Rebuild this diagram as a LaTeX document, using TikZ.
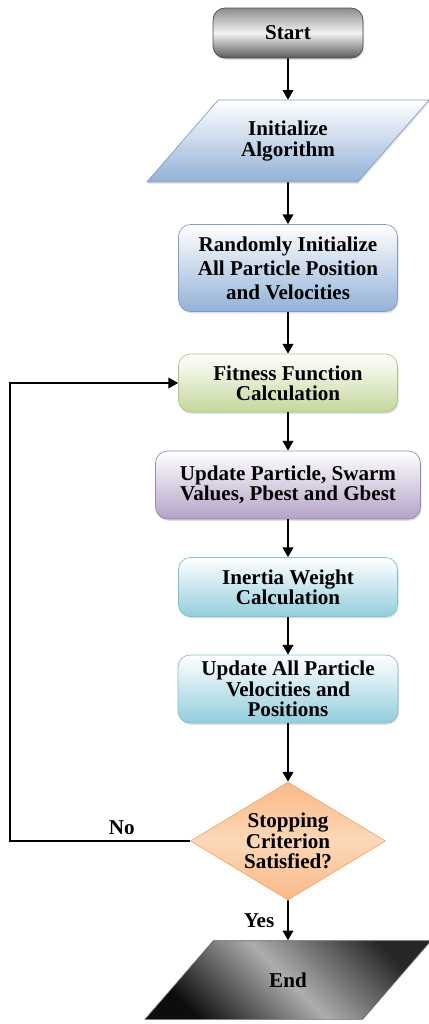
\documentclass[tikz,border=0pt]{standalone}
\usepackage{fontspec}
\setmainfont{Liberation Serif}
\usepackage{tikz}
\usetikzlibrary{arrows.meta,shapes.geometric,shadows}

\definecolor{blueB}{HTML}{93B1D7}
\definecolor{blueD}{HTML}{7F9FCB}
\definecolor{greenB}{HTML}{C4D79B}
\definecolor{greenD}{HTML}{AFC785}
\definecolor{purpleB}{HTML}{B3A2C7}
\definecolor{purpleD}{HTML}{9B86B6}
\definecolor{cyanB}{HTML}{93CDDD}
\definecolor{cyanD}{HTML}{7FBFD1}
\definecolor{orangeB}{HTML}{F9B886}
\definecolor{orangeL}{HTML}{FCD8B8}
\definecolor{orangeD}{HTML}{F4A870}

\begin{document}
\begin{tikzpicture}[
	every node/.style={font=\bfseries\fontsize{12}{11.6}\selectfont, align=center},
	box/.style={draw=#1D, rounded corners=0.24cm, top color=white, bottom color=#1B,
		minimum width=4.38cm, drop shadow={opacity=0.25, shadow xshift=0.6pt, shadow yshift=-1pt}},
	para/.style={trapezium, trapezium left angle=49, trapezium right angle=131,
		trapezium stretches body, inner xsep=0pt},
	arr/.style={-{Triangle[length=5.5pt,width=6pt]}, line width=1pt},
	feedback/.style={-{Triangle[length=5.5pt,width=6pt]}, line width=0.8pt}
	]
	\useasboundingbox (0,0) rectangle (8.58,-20.48);

	\node[draw=black!70, rounded corners=0.24cm, top color=black!45, bottom color=black!65,
		middle color=black!5, minimum width=3cm, minimum height=1cm,
		drop shadow={opacity=0.25, shadow xshift=0.6pt, shadow yshift=-1pt}] (START) at (5.76,-0.66) {Start};
	\node[para, draw=blueD, top color=white, bottom color=blueB, minimum width=5.64cm, inner ysep=12pt,
		drop shadow={opacity=0.2, shadow xshift=0.4pt, shadow yshift=-1.2pt},
		below of=START, node distance=2.16cm] (INIT) {Initialize\\Algorithm};
	\node[box=blue, minimum height=1.74cm, font=\bfseries\fontsize{12}{13.6}\selectfont,
		below of=INIT, node distance=2.54cm] (RAND) {Randomly Initialize\\All Particle Position\\and Velocities};
	\node[box=green, minimum height=1.16cm, below of=RAND, node distance=2.30cm] (FIT) {Fitness Function\\Calculation};
	\node[box=purple, minimum width=5.3cm, minimum height=1.36cm, below of=FIT, node distance=2.04cm] (UPD) {Update Particle, Swarm\\Values, Pbest and Gbest};
	\node[box=cyan, minimum height=1.18cm, below of=UPD, node distance=2.04cm] (INW) {Inertia Weight\\Calculation};
	\node[box=cyan, minimum width=4.4cm, minimum height=1.36cm, below of=INW, node distance=2.04cm] (VEL) {Update All Particle\\Velocities and\\Positions};
	\node[diamond, aspect=1.65, draw=orangeD, top color=orangeB, bottom color=orangeB, middle color=orangeL,
		minimum width=3.9cm, minimum height=2.36cm, inner sep=0pt, below of=VEL, node distance=3.04cm] (STOP) {Stopping\\Criterion\\Satisfied?};
	\node[para, minimum width=5.72cm, text height=8pt, text depth=0pt, inner ysep=18.4pt, draw=black!60,
		left color=black!95, right color=black!85, middle color=black!32, shading angle=135,
		below of=STOP, node distance=2.78cm] (END) {End};

	\coordinate[left of=STOP, node distance=5.56cm] (LOOP);

	\draw[arr] (START) -- (INIT);
	\draw[arr] (INIT) -- (RAND);
	\draw[arr] (RAND) -- (FIT);
	\draw[arr] (FIT) -- (UPD);
	\draw[arr] (UPD) -- (INW);
	\draw[arr] (INW) -- (VEL);
	\draw[arr] (VEL) -- (STOP);
	\draw[arr] (STOP) -- node[left=4pt]{Yes} (END);
	\draw[feedback] (STOP.west) -- node[above, pos=0.38]{No} (LOOP) |- (FIT.west);
\end{tikzpicture}
\end{document}
